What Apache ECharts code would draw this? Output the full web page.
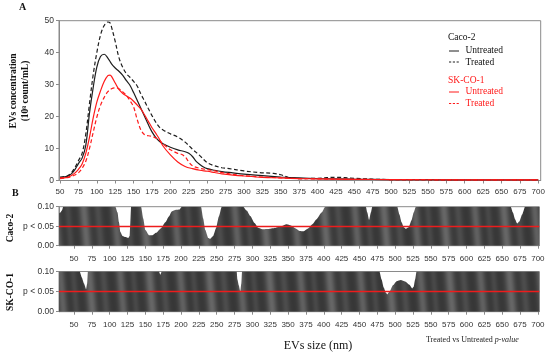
<!DOCTYPE html>
<html><head><meta charset="utf-8">
<script src="https://cdn.jsdelivr.net/npm/echarts@6/dist/echarts.min.js"></script>
<style>html,body{margin:0;padding:0;background:#fff}#c{width:550px;height:356px}</style>
</head><body><div id="c"></div><script>
// ---- data ----
const xTicks = [50,75,100,125,150,175,200,225,250,275,300,325,350,375,400,425,450,475,500,525,550,575,600,625,650,675,700];
const yTicksTop = [0,10,20,30,40,50];
const pTicks = [0,0.05,0.10];
const pThreshold = 0.05;

const cacoUntreated = [[50,1.0],[60,1.3],[65,2.0],[70,3.3],[75,5.3],[80,7.0],[85,11],[90,21],[95,29],[100,35.5],[105,38.8],[110,39.5],[115,38.3],[120,36.5],[125,35.2],[130,34.2],[135,33],[140,31.3],[145,29.8],[150,27.5],[155,25],[160,22.5],[165,20],[170,17.5],[175,15.2],[180,13.5],[185,12.3],[190,11.5],[200,10.4],[210,9.6],[220,9],[225,8.5],[230,7.5],[235,6],[240,5],[245,4.2],[250,3.7],[260,3.2],[270,2.8],[285,2.4],[300,2.0],[325,1.5],[350,1.1],[375,0.8],[400,0.6],[450,0.4],[500,0.3],[550,0.25],[600,0.2],[700,0.2]];
const cacoTreated = [[50,1.0],[60,1.5],[65,2.3],[70,4],[75,6.2],[80,8.5],[85,14.5],[90,24],[95,33],[100,40],[105,45.5],[110,48.5],[115,49.6],[118,49.3],[120,48],[125,43.5],[130,38.5],[135,35.5],[140,33.5],[145,32.3],[150,31],[155,29.5],[160,27],[165,24.8],[170,22.5],[175,20.3],[180,18.3],[185,16.7],[190,15.8],[200,14.6],[210,13.6],[220,12],[230,9.8],[240,7.8],[250,5.6],[260,4.6],[270,4.0],[280,3.7],[300,3.0],[320,2.5],[340,2.2],[350,1.8],[360,1.0],[375,0.6],[400,0.7],[425,1.0],[450,0.7],[475,0.4],[500,0.3],[600,0.2],[700,0.2]];
const skUntreated = [[50,0.8],[60,1.0],[65,1.5],[70,2.3],[75,3.5],[80,5.2],[85,8.5],[90,13.5],[95,19.5],[100,24.5],[105,28],[110,31],[115,32.8],[118,33],[120,32.6],[125,30.5],[130,28.5],[135,27.3],[140,26.5],[145,25.8],[150,24.8],[155,23.6],[160,22.3],[165,20.5],[170,18.5],[175,16.5],[180,14.8],[185,13],[190,10.8],[200,8],[210,5.8],[220,4.4],[230,3.7],[240,3.2],[250,2.9],[260,2.5],[270,2.1],[285,1.7],[300,1.4],[325,1.0],[350,0.8],[375,0.6],[400,0.5],[450,0.35],[500,0.3],[600,0.2],[700,0.2]];
const skTreated = [[50,0.6],[60,0.9],[65,1.2],[70,1.7],[75,2.4],[80,3.8],[85,6],[90,10],[95,15],[100,19.8],[105,23.5],[110,26],[115,27.8],[120,28.7],[125,29],[130,28.7],[135,27.8],[140,26.7],[145,25],[150,23],[155,19],[160,15.8],[165,14.3],[170,14],[175,13.8],[180,13.3],[185,12.6],[190,11.5],[195,10.5],[200,9.6],[210,8.5],[215,8.2],[220,7.4],[225,5.8],[230,4.6],[240,3.8],[250,3.4],[260,3.0],[270,2.5],[285,1.9],[300,1.5],[325,1.1],[350,0.8],[375,0.6],[400,0.5],[450,0.35],[500,0.3],[600,0.2],[700,0.2]];

const cacoP = [[29,0.083],[31,0.085],[33,0.09],[35,0.1],[108,0.1],[111,0.085],[113,0.06],[115,0.035],[118,0.025],[122,0.022],[126,0.02],[128,0.025],[129,0.06],[130,0.1],[144,0.1],[147,0.07],[150,0.04],[155,0.027],[160,0.027],[165,0.033],[172,0.045],[178,0.06],[183,0.075],[187,0.088],[193,0.092],[198,0.093],[201,0.1],[228,0.1],[231,0.07],[234,0.04],[238,0.02],[241,0.018],[245,0.025],[249,0.045],[253,0.075],[257,0.1],[287,0.1],[292,0.09],[297,0.076],[303,0.058],[308,0.046],[314,0.042],[320,0.043],[330,0.045],[340,0.05],[348,0.055],[354,0.052],[360,0.045],[366,0.038],[372,0.037],[378,0.044],[384,0.055],[390,0.068],[397,0.085],[402,0.1],[459,0.1],[461,0.085],[463.5,0.066],[466,0.085],[468,0.1],[503,0.1],[506,0.08],[509,0.06],[512,0.047],[515,0.043],[519,0.047],[523,0.065],[526,0.085],[529,0.1],[662,0.1],[665,0.085],[668,0.068],[671,0.057],[674,0.062],[678,0.08],[682,0.1],[702,0.1]];
const skP = [[29,0.1],[58,0.1],[61,0.085],[64,0.07],[67,0.056],[68.5,0.07],[69.5,0.1],[169,0.1],[171,0.092],[173,0.1],[278,0.1],[279,0.08],[281,0.065],[283,0.05],[284.5,0.07],[285.5,0.1],[478,0.1],[481,0.08],[484,0.06],[487,0.047],[489,0.043],[492,0.05],[497,0.066],[502,0.076],[508,0.079],[514,0.075],[520,0.067],[524,0.058],[526,0.062],[528,0.08],[530,0.1],[702,0.1]];

// ---- style helpers ----
const SERIF = 'Liberation Serif';
const SANS = 'Liberation Sans';
const AX = '#8a8a8a';
const LBL = '#333';
const BLACK = '#1e1e1e';
const RED = '#ff1a1a';

function makeStripes(){
  const W=60,H=720,c=document.createElement('canvas');c.width=W;c.height=H;
  const ctx=c.getContext('2d');const img=ctx.createImageData(W,H);
  const st=[[6,3.5,48],[20,2.8,22],[37,3.2,42],[50,2.4,18]];
  const base=54;
  for(let y=0;y<H;y++){for(let x=0;x<W;x++){
    let u=((x - y*W/H)%W+W)%W; let v=base;
    for(const [p,s,a] of st){let d=Math.abs(u-p); d=Math.min(d,W-d); v+=a*Math.exp(-d*d/(2*s*s));}
    v=Math.min(255,v); const i=(y*W+x)*4; img.data[i]=img.data[i+1]=img.data[i+2]=v; img.data[i+3]=255;}}
  ctx.putImageData(img,0,0); return c;
}
const stripe = makeStripes();

function xAxisCfg(gi, min, max, margin){
  return {type:'value', gridIndex:gi, min:min, max:max,
    axisLine:{show:true,onZero:false,lineStyle:{color:AX,width:1}},
    axisTick:{show:true,customValues:xTicks,length:3,lineStyle:{color:AX}},
    axisLabel:{customValues:xTicks,fontSize:8,color:LBL,fontFamily:SANS,margin:margin},
    splitLine:{show:false}};
}
function pAxisCfg(gi){
  return {type:'value', gridIndex:gi, min:0, max:0.1,
    axisLine:{show:true,lineStyle:{color:AX}},
    axisTick:{show:true,customValues:pTicks,length:3,lineStyle:{color:AX}},
    axisLabel:{customValues:pTicks,fontSize:8.5,color:LBL,fontFamily:SANS,margin:5,
      formatter:v=>Math.abs(v-pThreshold)<1e-9?'p < 0.05':v.toFixed(2)},
    splitLine:{show:false}};
}
function lineS(name,data,color,dashed){
  return {type:'line',name:name,xAxisIndex:0,yAxisIndex:0,data:data,showSymbol:false,symbol:'none',
    smooth:0.35,lineStyle:{color:color,width:1.2,type:dashed?[4,2.5]:'solid'}};
}
function pS(name,data,gi){
  return {type:'line',name:name,xAxisIndex:gi,yAxisIndex:gi,data:data,symbol:'none',smooth:0.2,smoothMonotone:'x',
    lineStyle:{width:0,opacity:0},areaStyle:{color:{image:stripe,repeat:'repeat'},opacity:1},
    markLine:{silent:true,symbol:'none',label:{show:false},
      lineStyle:{color:'#ee1c1c',width:1.3,type:'solid'},data:[{yAxis:pThreshold}]}};
}

const chart = echarts.init(document.getElementById('c'),null,{renderer:'canvas'});
function legLine(y,color,dashed){return {type:'line',shape:{x1:449,y1:y,x2:459,y2:y},style:{stroke:color,lineWidth:1,lineDash:dashed?[2.2,1.6]:null}};}
function legText(x,y,t,color,bold){return {type:'text',x:x,y:y,style:{text:t,fill:color,font:(bold?'bold ':'')+'9.5px "'+SERIF+'"',verticalAlign:'middle',align:'left'}};}

chart.setOption({
  animation:false,
  backgroundColor:'#fff',
  grid:[
    {left:59,top:20.7,width:481.7,height:159.8,show:true,borderColor:AX,borderWidth:1,backgroundColor:'transparent'},
    {left:59,top:206.7,width:480.3,height:39,show:true,borderColor:AX,borderWidth:1},
    {left:59,top:271.5,width:480.3,height:40.2,show:true,borderColor:AX,borderWidth:1}
  ],
  xAxis:[xAxisCfg(0,48.6,703.3,7), xAxisCfg(1,29,702,9), xAxisCfg(2,29,702,9)],
  yAxis:[
    {type:'value',gridIndex:0,min:0,max:50,interval:10,
      axisLine:{show:true,lineStyle:{color:AX}},axisTick:{show:true,length:3,lineStyle:{color:AX}},
      axisLabel:{fontSize:8.5,color:LBL,fontFamily:SANS,margin:5},splitLine:{show:false}},
    pAxisCfg(1), pAxisCfg(2)
  ],
  series:[
    lineS('Caco-2 Untreated',cacoUntreated,BLACK,false),
    lineS('Caco-2 Treated',cacoTreated,BLACK,true),
    lineS('SK-CO-1 Untreated',skUntreated,RED,false),
    lineS('SK-CO-1 Treated',skTreated,RED,true),
    pS('Caco-2 p-value',cacoP,1),
    pS('SK-CO-1 p-value',skP,2)
  ],
  graphic:[
    {type:'text',x:19,y:7.5,style:{text:'A',font:'bold 10px "'+SERIF+'"',fill:'#111',verticalAlign:'middle'}},
    {type:'text',x:12,y:193,style:{text:'B',font:'bold 10px "'+SERIF+'"',fill:'#111',verticalAlign:'middle'}},
    {type:'text',x:13.5,y:91,rotation:Math.PI/2,style:{text:'EVs concentration',font:'bold 9.5px "'+SERIF+'"',fill:'#111',align:'center',verticalAlign:'middle'}},
    {type:'text',x:25.5,y:91,rotation:Math.PI/2,style:{text:'(10⁸ count/mL)',font:'bold 9.5px "'+SERIF+'"',fill:'#111',align:'center',verticalAlign:'middle'}},
    {type:'text',x:11,y:228,rotation:Math.PI/2,style:{text:'Caco-2',font:'bold 9.5px "'+SERIF+'"',fill:'#111',align:'center',verticalAlign:'middle'}},
    {type:'text',x:11,y:292,rotation:Math.PI/2,style:{text:'SK-CO-1',font:'bold 9.5px "'+SERIF+'"',fill:'#111',align:'center',verticalAlign:'middle'}},
    legText(448,37.7,'Caco-2','#111',false),
    legLine(51,BLACK,false), legText(465.5,50.5,'Untreated','#111',false),
    legLine(62,BLACK,true), legText(465.5,62,'Treated','#111',false),
    legText(448,80,'SK-CO-1',RED,false),
    legLine(92,RED,false), legText(465.5,91.7,'Untreated',RED,false),
    legLine(103.5,RED,true), legText(465.5,103.3,'Treated',RED,false),
    {type:'text',x:318,y:346,style:{text:'EVs size (nm)',font:'12px "'+SERIF+'"',fill:'#111',align:'center',verticalAlign:'middle'}},
    {type:'text',x:426,y:340,style:{text:'Treated vs Untreated {i|p-value}',font:'8px "'+SERIF+'"',fill:'#222',verticalAlign:'middle',
      rich:{i:{fontStyle:'italic',fontSize:8,fontFamily:SERIF,fill:'#222'}}}}
  ]
});
</script></body></html>
